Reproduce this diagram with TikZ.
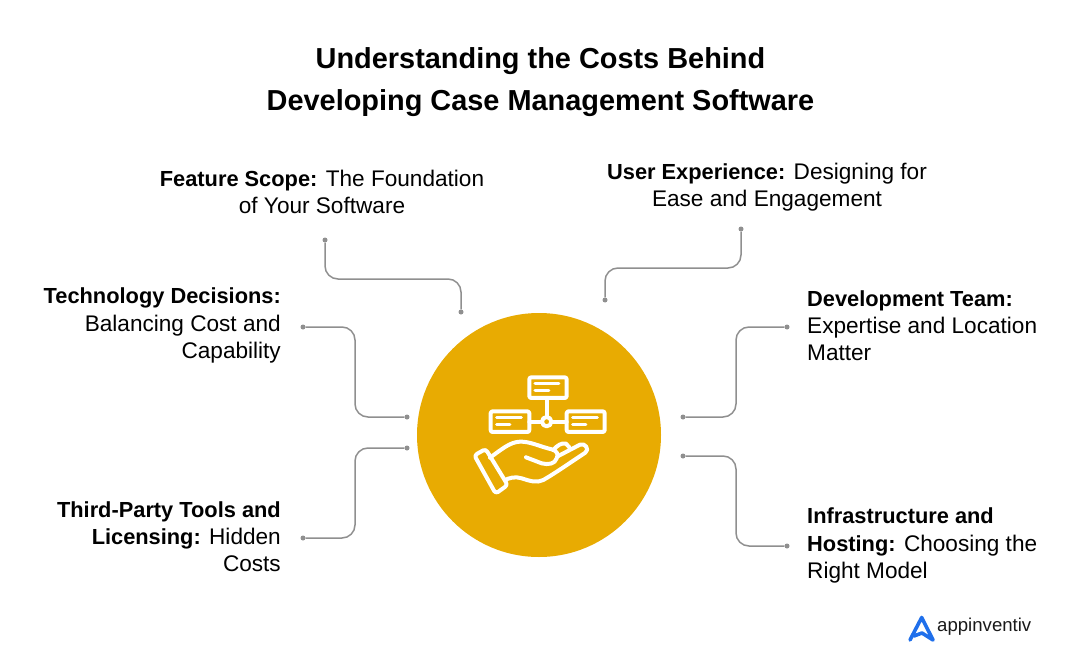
\documentclass[tikz,border=0pt]{standalone}
\usepackage{fontspec}
\setmainfont{Liberation Sans}[BoldFeatures={Scale=0.965}]
\newfontfamily\titlefont{Liberation Sans Bold}
\definecolor{gold}{HTML}{E8AB02}
\definecolor{wire}{HTML}{8F8F8F}
\definecolor{logoblue}{HTML}{1F6FEB}
\tikzset{
  dot/.style={circle,fill=wire,inner sep=0pt,minimum size=5pt},
  wireline/.style={draw=wire,line width=1.5pt,rounded corners=13pt},
  label/.style={inner sep=0pt,font=\fontsize{22.6}{27.2}\selectfont},
  iconline/.style={draw=white,line width=4pt,line join=round,line cap=round}
}
\begin{document}
\begin{tikzpicture}[x=1pt,y=-1pt]
\useasboundingbox (0,0) rectangle (1080,661);
\node[inner sep=0pt,align=center,font=\fontsize{28.9}{42}\titlefont\selectfont] (title) at (540.5,82) {Understanding the Costs Behind\\Developing Case Management Software};
% labels
\node[label,align=center] (scope) at (322,192) {\textbf{Feature Scope:} The Foundation\\of Your Software};
\node[label,align=center] (ux) at (767,187.5) {\textbf{User Experience:} Designing for\\Ease and Engagement};
\node[label,align=right,anchor=east] (tech) at (281,325.5) {\textbf{Technology Decisions:}\\Balancing Cost and\\Capability};
\node[label,align=right,anchor=east] (tools) at (281,537) {\textbf{Third-Party Tools and}\\\textbf{Licensing:} Hidden\\Costs};
\node[label,align=left,anchor=west] (team) at (807,325.5) {\textbf{Development Team:}\\Expertise and Location\\Matter};
\node[label,align=left,anchor=west] (infra) at (807,545.5) {\textbf{Infrastructure and}\\\textbf{Hosting:} Choosing the\\Right Model};
% circle
\node[circle,fill=gold,inner sep=0pt,minimum size=244pt] (hub) at (539,435) {};
% connectors
\foreach \name/\x/\y in {scopeA/325/240,scopeB/461/312,uxA/741/229,uxB/605/300,techA/303/327,techB/407/417,toolsA/303/538,toolsB/407/448,teamA/787/327,teamB/683/417,infraA/787/546,infraB/683/456}
\node[dot] (\name) at (\x,\y) {};
\coordinate (scopeKnee) at (393,279);
\coordinate (uxKnee) at (673,268);
\coordinate (techKnee) at (355,372);
\coordinate (toolsKnee) at (355,493);
\coordinate (teamKnee) at (736,372);
\coordinate (infraKnee) at (736,501);
\draw[wireline] (scopeA) |- (scopeKnee) -| (scopeB);
\draw[wireline] (uxA) |- (uxKnee) -| (uxB);
\draw[wireline] (techA) -| (techKnee) |- (techB);
\draw[wireline] (toolsA) -| (toolsKnee) |- (toolsB);
\draw[wireline] (teamA) -| (teamKnee) |- (teamB);
\draw[wireline] (infraA) -| (infraKnee) |- (infraB);
% icon
\begin{scope}[shift={(440,350)},x=0.3333pt,y=-0.3333pt]
\draw[iconline,rounded corners=2pt] (268,82) rectangle (380,144);
\draw[iconline,rounded corners=2pt] (152,184) rectangle (268,246);
\draw[iconline,rounded corners=2pt] (380,184) rectangle (494,246);
\draw[iconline] (320,215) circle (14);
\draw[iconline] (322,144) -- (322,200);
\draw[iconline] (268,215) -- (305,215);
\draw[iconline] (335,215) -- (380,215);
\foreach \x/\y/\len/\short in {285/102/72/42,170/204/74/40,398/204/74/40} {
\draw[white,line width=3pt,line cap=round] (\x,\y) -- +(\len,0);
\draw[white,line width=3pt,line cap=round] (\x,\y+21) -- +(\short,0);
}
% hand
\draw[iconline,rounded corners=3pt] (103,316) -- (137,297) -- (203,405) -- (167,431) -- cycle;
\draw[iconline] (150,323) .. controls (185,298) and (210,276) .. (240,275) .. controls (270,274) and (300,290) .. (335,298) .. controls (352,302) and (356,315) .. (350,325) .. controls (345,342) and (325,345) .. (305,340) -- (258,322);
\draw[iconline] (342,298) .. controls (350,288) and (365,277) .. (378,281) -- (388,292);
\draw[iconline] (355,318) -- (420,284) .. controls (435,278) and (450,298) .. (436,308) .. controls (395,335) and (345,370) .. (310,390) .. controls (290,400) and (270,393) .. (245,385) .. controls (225,378) and (205,385) .. (195,390);
\end{scope}
% logo
\draw[logoblue,line width=3.6pt,line join=round,line cap=round] (910,640) -- (921.7,617.5) -- (933,640) -- (922,633) -- (914,636);
\node[inner sep=0pt,anchor=west,font=\fontsize{18.6}{22}\selectfont,text=black!90] (logo) at (937,627) {appinventiv};
\end{tikzpicture}
\end{document}
